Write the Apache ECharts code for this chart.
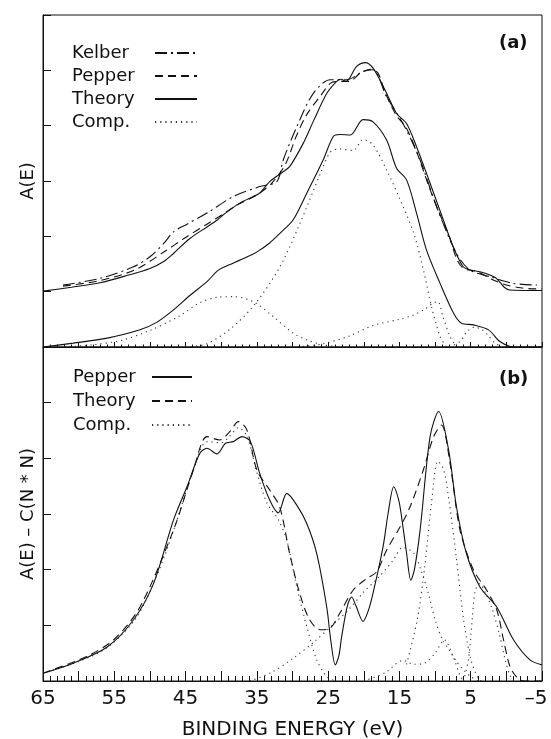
<!DOCTYPE html>
<html>
<head>
<meta charset="utf-8">
<script src="https://cdn.jsdelivr.net/npm/echarts@6/dist/echarts.min.js"></script>
<style>
  html, body { margin: 0; padding: 0; background: #fff; }
</style>
</head>
<body>
<div id="main" style="width: 551px; height: 739px;"></div>
<script>
// x tick labels (binding energy, eV)
const xTickLabels = [65, 55, 45, 35, 25, 15, 5, -5];

// ---- panel (a): A(E) ----
const kelberE = [62.2, 57, 52.3, 50, 48, 46.7, 44.8, 42, 38.3, 34.6, 32.2, 31.3, 29.4, 27.1, 24.7, 22.4, 20.1, 18.7, 16.8, 14.5, 12.1, 9.8, 7, 5.1, 2.3, -0.9, -4.3];
const kelberA = [1.12, 1.24, 1.45, 1.63, 1.88, 2.08, 2.22, 2.42, 2.72, 2.9, 2.99, 3.38, 3.98, 4.58, 4.83, 4.83, 4.98, 5.01, 4.52, 4.04, 3.38, 2.54, 1.69, 1.39, 1.27, 1.15, 1.12];

const pepperAE = [62.2, 57, 52, 48, 45, 42, 40, 38, 35, 33, 31, 29.5, 28, 26, 24.5, 23, 22, 20.5, 19, 18, 17, 15.5, 14, 12.5, 11, 9.5, 8, 7, 6, 4, 2, 0, -2, -4, -5];
const pepperAA = [1.1, 1.2, 1.4, 1.72, 1.98, 2.22, 2.38, 2.55, 2.75, 2.95, 3.3, 3.8, 4.2, 4.55, 4.78, 4.8, 4.8, 4.95, 5.02, 4.95, 4.6, 4.2, 3.95, 3.5, 2.95, 2.45, 2.0, 1.6, 1.42, 1.36, 1.22, 1.12, 1.07, 1.05, 1.05];

const theoryUpE = [65, 61, 57, 53, 50, 48, 46.7, 44.4, 42, 40.5, 39.7, 37.4, 35.5, 34.6, 33.2, 31.5, 30.4, 28.5, 27, 25.2, 23.8, 23.2, 22.5, 21, 19.8, 18.7, 17, 15.4, 14, 12.6, 10.7, 8.85, 7.45, 6.05, 5, 3.7, 2.5, 1.4, 0.3, -0.5, -5];
const theoryUpA = [1.01, 1.08, 1.16, 1.3, 1.42, 1.55, 1.69, 1.96, 2.17, 2.3, 2.39, 2.6, 2.72, 2.78, 2.99, 3.15, 3.26, 3.68, 4.1, 4.58, 4.8, 4.84, 4.8, 5.07, 5.14, 5.04, 4.64, 4.22, 4.04, 3.62, 2.96, 2.3, 1.81, 1.45, 1.39, 1.36, 1.31, 1.24, 1.08, 1.03, 1.02];

const theoryLowE = [65, 60.75, 56, 51.4, 49, 46.7, 44.4, 42, 40.5, 39.5, 37.4, 35.5, 34.6, 33.2, 31.8, 29.9, 28, 25.7, 24.3, 23.4, 21.9, 20.1, 18.7, 16.8, 15.4, 14, 12.6, 11.2, 9.3, 7.4, 6.3, 4.6, 2.5, 0.9, -1, -5];
const theoryLowA = [0, 0.07, 0.16, 0.31, 0.45, 0.67, 0.93, 1.18, 1.38, 1.45, 1.57, 1.68, 1.75, 1.88, 2.05, 2.3, 2.78, 3.38, 3.8, 3.84, 3.83, 4.11, 4.07, 3.74, 3.23, 3.02, 2.42, 1.75, 1.15, 0.61, 0.43, 0.4, 0.31, 0.1, 0, 0];

const compA1E = [62, 58, 54, 50, 46, 43, 40.5, 38.3, 35.5, 32.7, 29.9, 28, 25.7, 23];
const compA1A = [0, 0.04, 0.12, 0.3, 0.55, 0.8, 0.9, 0.91, 0.82, 0.55, 0.25, 0.13, 0.04, 0];
const compA2E = [45, 42, 38.5, 35.3, 31.8, 29, 26.1, 24.7, 23.4, 21.5, 20.1, 18.7, 16.8, 14.9, 13, 11.65, 10.5, 9.3, 8.4];
const compA2A = [0, 0.06, 0.35, 0.77, 1.44, 2.22, 3.13, 3.52, 3.58, 3.55, 3.75, 3.65, 3.2, 2.66, 2.06, 1.4, 0.73, 0.19, 0];
const compA3E = [30, 26, 22, 18.7, 15, 13, 11.5, 10.2, 9.6, 8.9, 7.9, 7];
const compA3A = [0, 0.05, 0.2, 0.39, 0.5, 0.58, 0.68, 0.8, 0.82, 0.55, 0.19, 0];
const compA4E = [8, 6.5, 5.5, 4.5, 3.5, 2.5, 1.5, 0.5];
const compA4A = [0, 0.1, 0.28, 0.36, 0.32, 0.2, 0.06, 0];

// ---- panel (b): A(E) - C(N*N) ----
const pepperBE = [65, 60.75, 56, 52.3, 49.5, 46.7, 44.8, 43, 42, 40.6, 39.4, 38.3, 37.1, 35.9, 34.6, 33.2, 32, 30.8, 29.4, 28, 26.6, 25.2, 24.6, 24, 23.5, 23.1, 22.3, 21.7, 21.1, 20.1, 19.4, 18.7, 17.3, 16.6, 15.8, 15.1, 14.7, 14, 13.4, 12.9, 12.1, 10.7, 9.5, 8.1, 7, 5.6, 3.7, 1.35, -1, -3.3, -5];
const pepperBA = [0.14, 0.32, 0.61, 1.1, 1.75, 2.89, 3.49, 4.09, 4.18, 4.08, 4.27, 4.3, 4.39, 4.3, 3.73, 3.25, 3.02, 3.37, 3.16, 2.83, 2.29, 1.33, 0.7, 0.29, 0.45, 0.8, 1.35, 1.51, 1.35, 1.07, 1.25, 1.58, 2.41, 3.0, 3.49, 3.25, 2.95, 2.3, 1.81, 2.0, 2.71, 4.39, 4.84, 4.15, 3.13, 2.29, 1.69, 1.33, 0.74, 0.38, 0.29];

const theoryBE = [65, 58.9, 55, 51.4, 46.7, 43.9, 42, 40.2, 38.8, 37.6, 36.4, 35, 33.2, 31.8, 30.4, 29, 27.6, 26.1, 24.7, 23.35, 21.5, 19.6, 18.2, 16.8, 14.9, 13.5, 11.65, 10.2, 9.1, 7.9, 6.5, 4.6, 2.76, 1.35, 0.4, -0.5, -1.4, -2.5, -5];
const theoryBA = [0.14, 0.44, 0.75, 1.33, 2.71, 3.79, 4.39, 4.33, 4.48, 4.66, 4.51, 3.79, 3.43, 3.13, 2.29, 1.58, 1.1, 0.92, 0.95, 1.22, 1.63, 1.84, 1.96, 2.35, 2.77, 3.13, 3.79, 4.39, 4.6, 3.91, 2.71, 1.99, 1.63, 1.28, 0.74, 0.26, 0.08, 0, 0];

const compB1E = [65, 60, 56, 52, 49, 46.7, 44, 42, 40, 38.8, 37.6, 36.4, 35, 33.6, 32, 30.8, 29.4, 28, 26.6, 25.2, 24];
const compB1A = [0.14, 0.35, 0.6, 1.12, 1.9, 2.7, 3.75, 4.3, 4.28, 4.4, 4.55, 4.4, 3.75, 3.2, 2.9, 2.53, 1.69, 0.98, 0.38, 0.08, 0];
const compB2E = [36, 33, 30, 27, 24, 22, 20, 18, 16, 14.5, 13, 12, 11, 10, 9, 8, 7, 6, 5, 4];
const compB2A = [0, 0.15, 0.4, 0.7, 1.05, 1.3, 1.6, 1.85, 2.15, 2.4, 2.3, 2.0, 1.6, 1.1, 0.75, 0.55, 0.35, 0.2, 0.08, 0];
const compB3E = [14, 12.5, 11.5, 10.5, 9.6, 8.8, 8, 7, 6, 5, 4, 3.5];
const compB3A = [0.3, 1.1, 2.0, 3.2, 3.95, 3.8, 3.2, 2.2, 1.1, 0.4, 0.05, 0];
const compB4E = [6, 5.3, 4.8, 4.4, 3.8, 3, 2, 1, 0.2, -0.5, -1];
const compB4A = [0, 0.4, 1.1, 1.6, 1.75, 1.6, 1.3, 0.85, 0.4, 0.1, 0];
const compB5E = [20, 17, 14.5, 13, 11.5, 10, 8.7, 7.5, 6.5, 6];
const compB5A = [0, 0.15, 0.37, 0.3, 0.32, 0.5, 0.74, 0.45, 0.1, 0];

const FONT = 'DejaVu Sans';
const INK = '#111';
const SOLID = 'solid';
const DASH = [8, 5];
const DASHDOT = [12, 4, 2, 4];
const DOT = [1.2, 4];

function pairs(xs, ys) {
    return xs.map((x, i) => [x, ys[i]]);
}

function line(name, xs, ys, panel, dash, width) {
    return {
        name: name,
        type: 'line',
        xAxisIndex: panel,
        yAxisIndex: panel,
        data: pairs(xs, ys),
        symbol: 'none',
        showSymbol: false,
        smooth: 0.3,
        lineStyle: { color: dash === DOT ? '#333' : INK, width: width || 1.1, type: dash },
        itemStyle: { color: INK },
        z: dash === DOT ? 1 : 2,
    };
}

function tickLabel(v) {
    if (!xTickLabels.includes(v)) return '';
    // the last label sits at the plot's right edge, nudge it inside the page
    if (v < 0) return '{edge|\u2013' + (-v) + '}';
    return String(v);
}

function xAxisFor(panel, showLabels) {
    return {
        type: 'value',
        gridIndex: panel,
        inverse: true,
        min: -5,
        max: 65,
        interval: 5,
        axisLine: { show: true, onZero: false, lineStyle: { color: INK, width: 1 } },
        axisTick: { show: true, inside: true, length: showLabels ? 10 : 5, lineStyle: { color: INK } },
        minorTick: { show: true, splitNumber: 5, length: showLabels ? 5 : 2.5, lineStyle: { color: INK } },
        splitLine: { show: false },
        axisLabel: {
            show: showLabels,
            margin: 8,
            fontFamily: FONT,
            fontSize: 20,
            color: INK,
            formatter: tickLabel,
            rich: { edge: { fontFamily: FONT, fontSize: 20, color: INK, padding: [0, 12, 0, 0] } },
        },
        name: showLabels ? 'BINDING ENERGY (eV)' : '',
        nameLocation: 'middle',
        nameGap: 39,
        nameTextStyle: { fontFamily: FONT, fontSize: 20, color: INK },
    };
}

function yAxisFor(panel, name) {
    return {
        type: 'value',
        gridIndex: panel,
        min: 0,
        max: 6,
        interval: 1,
        axisLine: { show: true, onZero: false, lineStyle: { color: INK, width: 1 } },
        axisTick: { show: true, inside: true, length: 8, lineStyle: { color: INK } },
        splitLine: { show: false },
        axisLabel: { show: false },
        name: name,
        nameLocation: 'middle',
        nameGap: 6,
        nameTextStyle: { fontFamily: FONT, fontSize: 18, color: INK },
    };
}

function legendFor(names, left, top, iconW, textW, gap) {
    return {
        data: names,
        left: left,
        top: top,
        orient: 'vertical',
        align: 'right',
        itemWidth: iconW,
        itemHeight: 10,
        itemGap: gap,
        padding: 0,
        selectedMode: false,
        itemStyle: { opacity: 0 },
        formatter: name => '{n|' + name + '}',
        textStyle: {
            color: INK,
            rich: { n: { width: textW, align: 'left', fontFamily: FONT, fontSize: 18, lineHeight: 18, color: INK } },
        },
    };
}

let chartDom = document.getElementById('main');
let myChart = echarts.init(chartDom, null, { renderer: 'canvas' });

let option = {
    animation: false,
    backgroundColor: '#fff',
    title: [
        { text: '(a)', left: 499, top: 34, padding: 0, textStyle: { fontFamily: FONT, fontSize: 18, fontWeight: 'bold', color: INK } },
        { text: '(b)', left: 499, top: 370, padding: 0, textStyle: { fontFamily: FONT, fontSize: 18, fontWeight: 'bold', color: INK } },
    ],
    legend: [
        legendFor(['Kelber', 'Pepper', 'Theory', 'Comp.'], 72, 44, 42, 78, 5),
        legendFor(['Pepper ', 'Theory ', 'Comp. '], 73, 368, 40, 74, 6),
    ],
    grid: [
        { left: 43, top: 15, width: 499, height: 332, show: true, borderColor: INK, borderWidth: 1, outerBoundsMode: 'none' },
        { left: 43, top: 347, width: 499, height: 334, show: true, borderColor: INK, borderWidth: 1, outerBoundsMode: 'none' },
    ],
    xAxis: [xAxisFor(0, false), xAxisFor(1, true)],
    yAxis: [yAxisFor(0, 'A(E)'), yAxisFor(1, 'A(E) \u2013 C(N * N)')],
    series: [
        line('Kelber', kelberE, kelberA, 0, DASHDOT),
        line('Pepper', pepperAE, pepperAA, 0, DASH),
        line('Theory', theoryUpE, theoryUpA, 0, SOLID),
        line('Comp.', compA1E, compA1A, 0, DOT),
        line('Theory', theoryLowE, theoryLowA, 0, SOLID),
        line('Comp.', compA2E, compA2A, 0, DOT),
        line('Comp.', compA3E, compA3A, 0, DOT),
        line('Comp.', compA4E, compA4A, 0, DOT),

        line('Pepper ', pepperBE, pepperBA, 1, SOLID),
        line('Theory ', theoryBE, theoryBA, 1, DASH),
        line('Comp. ', compB1E, compB1A, 1, DOT),
        line('Comp. ', compB2E, compB2A, 1, DOT),
        line('Comp. ', compB3E, compB3A, 1, DOT),
        line('Comp. ', compB4E, compB4A, 1, DOT),
        line('Comp. ', compB5E, compB5A, 1, DOT),
    ],
};

option && myChart.setOption(option);
</script>
</body>
</html>
